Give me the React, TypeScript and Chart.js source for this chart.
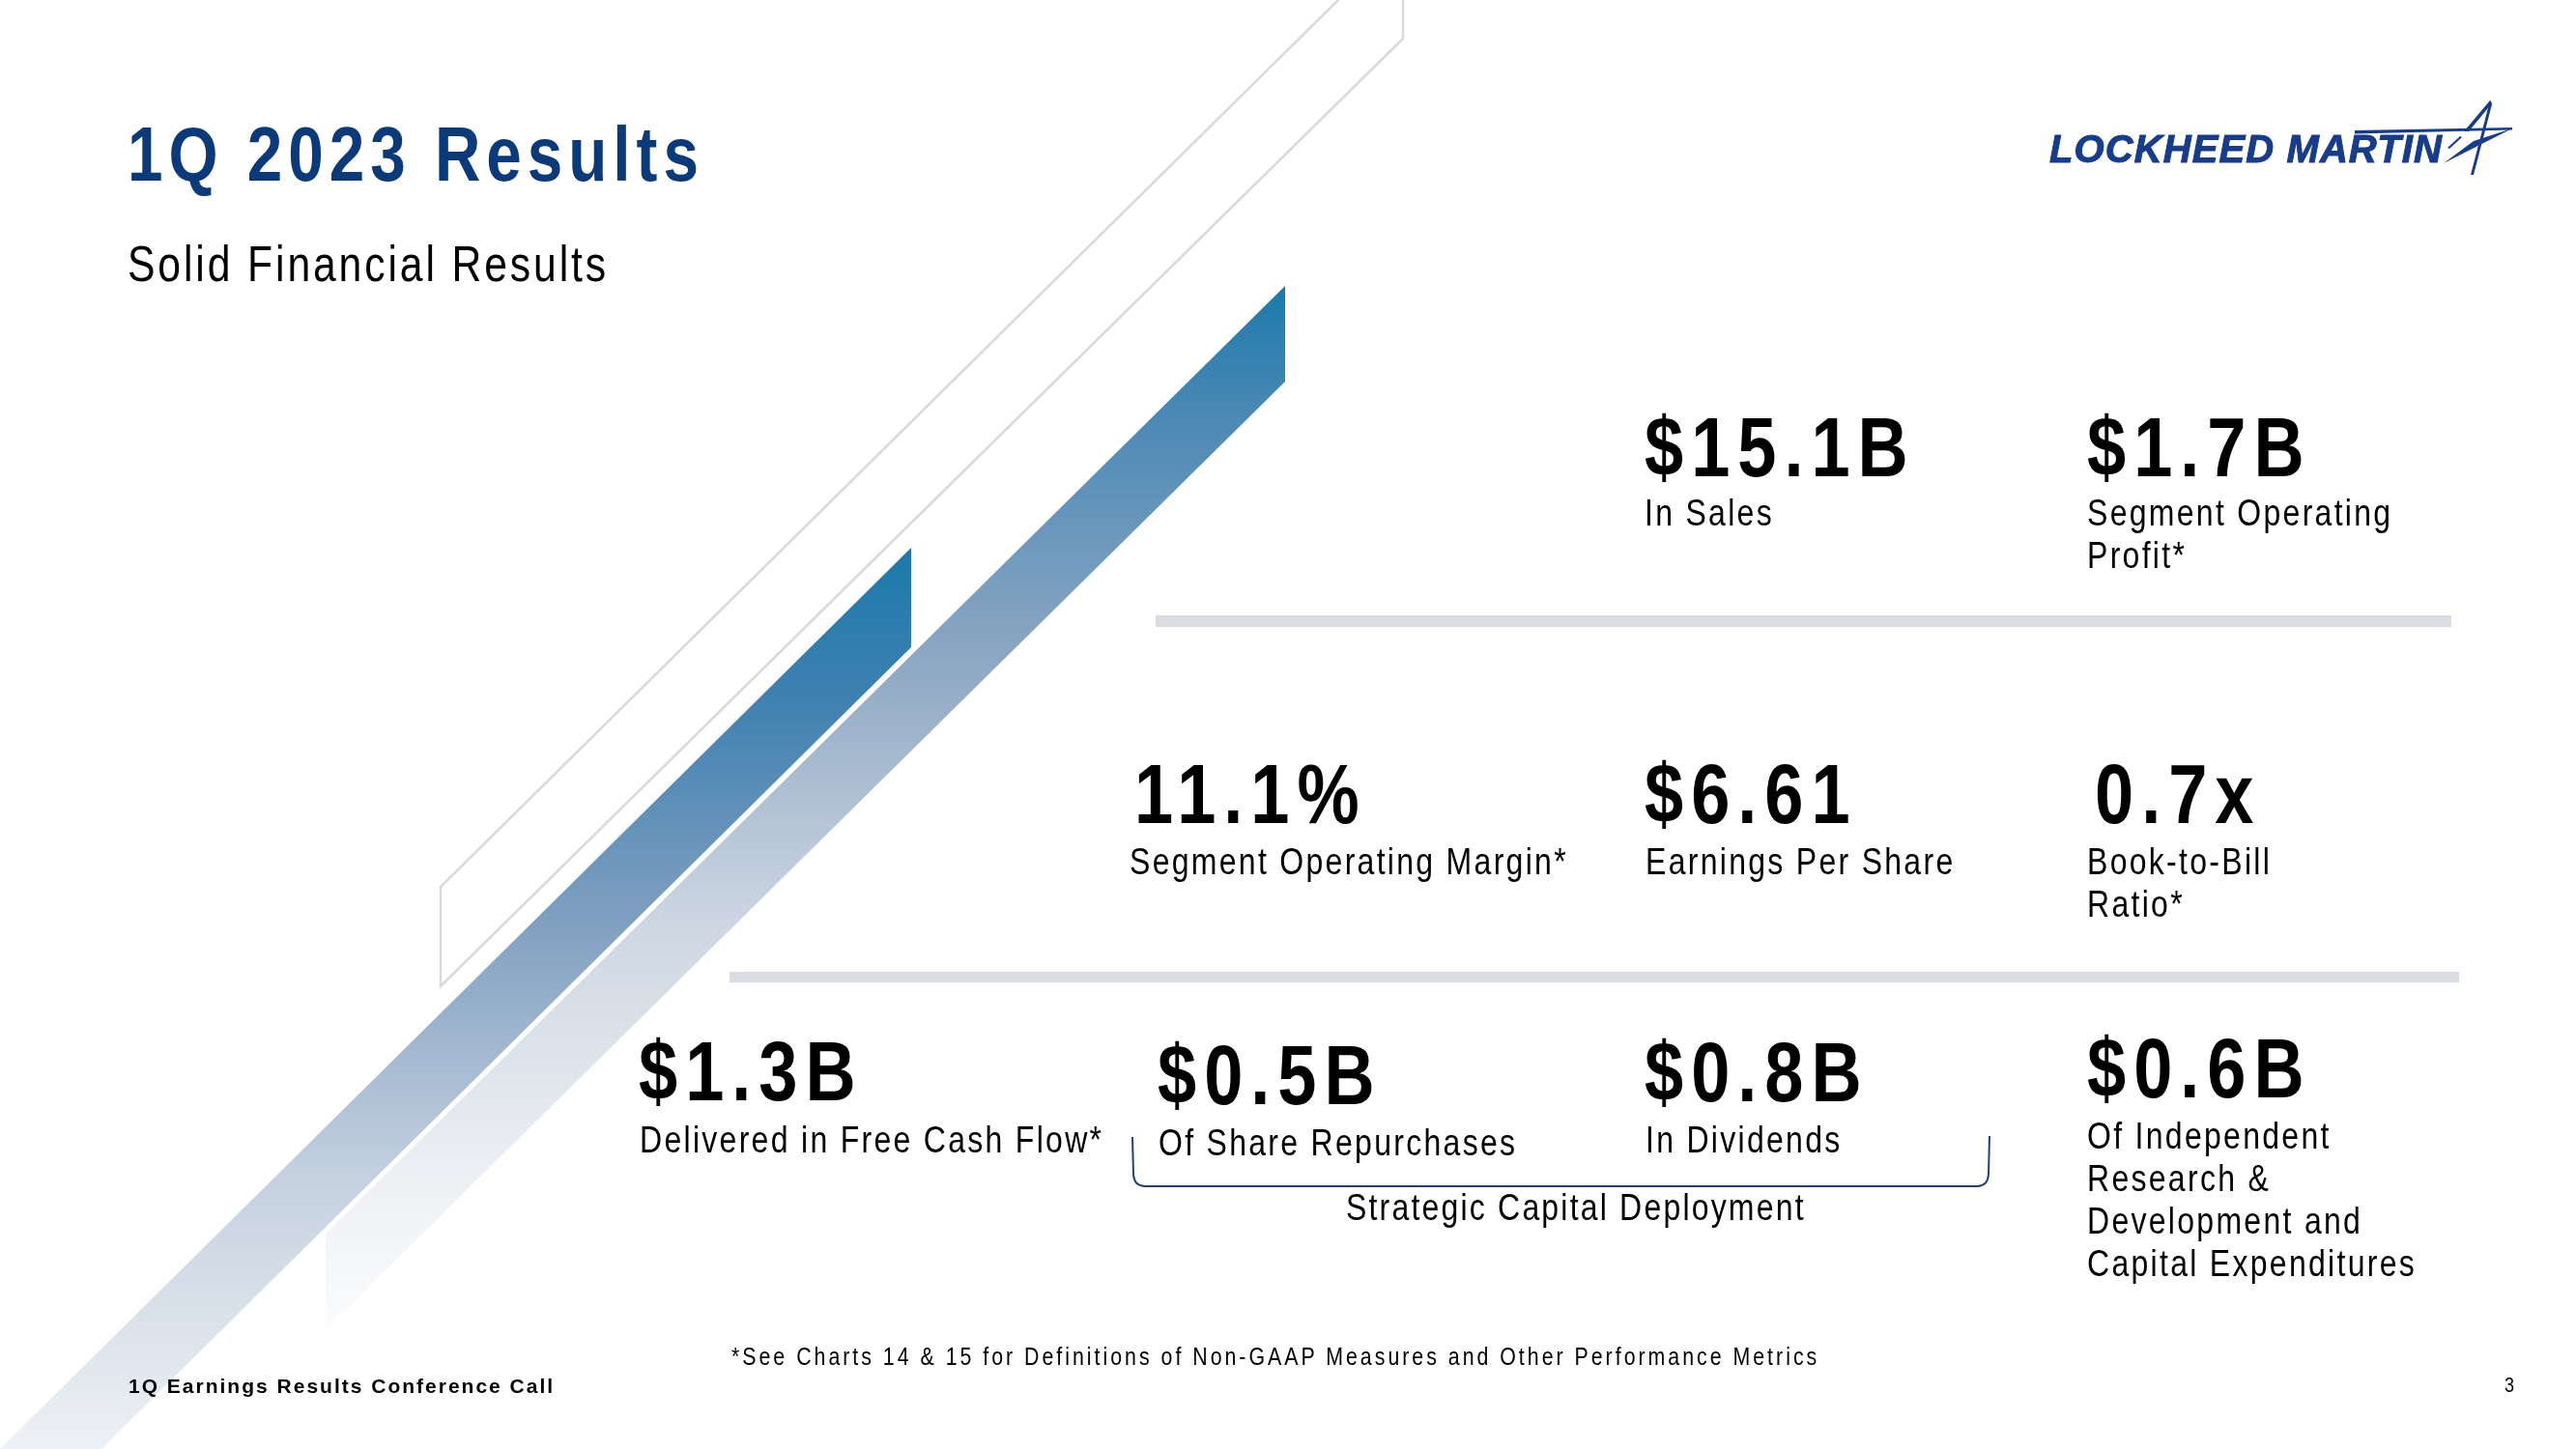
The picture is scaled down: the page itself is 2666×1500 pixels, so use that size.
import React, { useEffect, useRef } from "react";
import { Chart, registerables } from "chart.js";

Chart.register(...registerables);

// ---------- content (data) ----------
const TITLE = "1Q 2023 Results";
const SUBTITLE = "Solid Financial Results";
const KPI_VALUES = ["$15.1B", "$1.7B", "11.1%", "$6.61", "0.7x", "$1.3B", "$0.5B", "$0.8B", "$0.6B"];
const KPI_LABELS = [
  ["In Sales"],
  ["Segment Operating", "Profit*"],
  ["Segment Operating Margin*"],
  ["Earnings Per Share"],
  ["Book-to-Bill", "Ratio*"],
  ["Delivered in Free Cash Flow*"],
  ["Of Share Repurchases"],
  ["In Dividends"],
  ["Of Independent", "Research &", "Development and", "Capital Expenditures"],
];
const BRACKET_LABEL = "Strategic Capital Deployment";
const FOOTNOTE = "*See Charts 14 & 15 for Definitions of Non-GAAP Measures and Other Performance Metrics";
const FOOTER = "1Q Earnings Results Conference Call";
const PAGE_NUMBER = "3";
const LOGO_TEXT = "LOCKHEED MARTIN";

// ---------- layout ----------
const W = 2666;
const H = 1500;
const NARROW_SCALE = 0.82;
const KPI_LAYOUT = [
  { nx: 1702, lx: 1702, nb: 493, lb: 545 },
  { nx: 2160, lx: 2160, nb: 493, lb: 545 },
  { nx: 1174, lx: 1169, nb: 852, lb: 906 },
  { nx: 1702, lx: 1703, nb: 852, lb: 906 },
  { nx: 2168, lx: 2160, nb: 852, lb: 906 },
  { nx: 661, lx: 662, nb: 1139, lb: 1194 },
  { nx: 1198, lx: 1199, nb: 1143, lb: 1197 },
  { nx: 1702, lx: 1703, nb: 1140, lb: 1194 },
  { nx: 2160, lx: 2160, nb: 1136, lb: 1190 },
];

const SANS = '"Liberation Sans", Arial, sans-serif';

function topFor(baseline: number, size: number, lh: number) {
  return baseline - ((lh - 1.117 * size) / 2 + 0.905 * size);
}

type TxtProps = {
  x: number;
  baseline: number;
  size: number;
  lh?: number;
  weight?: number;
  color?: string;
  ls?: number;
  italic?: boolean;
  narrow?: boolean;
  stroke?: number;
  children: React.ReactNode;
};

// ls is the visible letter spacing in px
function Txt({ x, baseline, size, lh, weight = 400, color = "#000", ls = 0, italic, narrow, stroke, children }: TxtProps) {
  const L = lh ?? size;
  const k = narrow ? NARROW_SCALE : 1;
  return (
    <div
      style={{
        position: "absolute",
        left: x,
        top: topFor(baseline, size, L),
        fontFamily: SANS,
        fontSize: size,
        lineHeight: L + "px",
        fontWeight: weight,
        fontStyle: italic ? "italic" : "normal",
        color,
        letterSpacing: ls / k,
        whiteSpace: "pre",
        transform: narrow ? `scaleX(${k})` : undefined,
        transformOrigin: "0 0",
        WebkitTextStroke: stroke ? `${stroke}px ${color}` : undefined,
      }}
    >
      {children}
    </div>
  );
}

// ---------- decorative geometry drawn with the chart's scales ----------
const decorPlugin = {
  id: "slideDecor",
  beforeDatasetsDraw(chart: any) {
    const { ctx } = chart;
    const sx = chart.scales.x;
    const sy = chart.scales.y;
    const X = (v: number) => sx.getPixelForValue(v);
    const Y = (v: number) => sy.getPixelForValue(v);
    const poly = (pts: number[][]) => {
      ctx.beginPath();
      pts.forEach((p, i) => (i ? ctx.lineTo(X(p[0]), Y(p[1])) : ctx.moveTo(X(p[0]), Y(p[1]))));
      ctx.closePath();
    };
    ctx.save();

    // outline parallelogram (thin grey)
    ctx.strokeStyle = "#d9d9d9";
    ctx.lineWidth = 2.5;
    ctx.beginPath();
    ctx.moveTo(X(1387), Y(-2));
    ctx.lineTo(X(456), Y(918));
    ctx.lineTo(X(456), Y(1021));
    ctx.lineTo(X(1452), Y(40));
    ctx.lineTo(X(1452), Y(-2));
    ctx.stroke();

    // small (long) stripe
    let g = ctx.createLinearGradient(0, Y(567), 0, Y(1500));
    g.addColorStop(0, "#1a7aaa");
    g.addColorStop(0.16, "#3d80b0");
    g.addColorStop(0.41, "#7f9fc0");
    g.addColorStop(0.7, "#c5d1df");
    g.addColorStop(1, "#eef1f5");
    ctx.fillStyle = g;
    poly([[943, 567], [943, 670], [103, 1502], [-2, 1502]]);
    ctx.fill();

    // big stripe
    g = ctx.createLinearGradient(0, Y(296), 0, Y(1376));
    g.addColorStop(0, "#1a7aaa");
    g.addColorStop(0.12, "#4a88b5");
    g.addColorStop(0.36, "#8ea8c3");
    g.addColorStop(0.61, "#cdd6e2");
    g.addColorStop(0.86, "#eef0f4");
    g.addColorStop(1, "#fbfcfd");
    ctx.fillStyle = g;
    poly([[1330, 296], [1330, 395], [337, 1376], [337, 1277]]);
    ctx.fill();

    // separators
    ctx.fillStyle = "#d9dce2";
    poly([[1196, 637], [2537, 637], [2537, 649], [1196, 649]]);
    ctx.fill();
    poly([[755, 1006], [2545, 1006], [2545, 1017], [755, 1017]]);
    ctx.fill();

    // bracket
    ctx.strokeStyle = "#23407a";
    ctx.lineWidth = 2;
    ctx.beginPath();
    ctx.moveTo(X(1172), Y(1177));
    ctx.lineTo(X(1173), Y(1216));
    ctx.quadraticCurveTo(X(1174), Y(1228), X(1185), Y(1228));
    ctx.lineTo(X(2046), Y(1228));
    ctx.quadraticCurveTo(X(2057), Y(1228), X(2058), Y(1216));
    ctx.lineTo(X(2059), Y(1176));
    ctx.stroke();

    // logo star
    ctx.fillStyle = "#173c8c";
    poly([[2437, 135], [2600, 132], [2600, 134.5], [2437, 138.5]]);
    ctx.fill();
    poly([[2577, 104], [2579, 107], [2555, 136], [2550, 136]]);
    ctx.fill();
    poly([[2577, 104], [2579, 108], [2560, 181], [2557, 181]]);
    ctx.fill();
    poly([[2600, 133], [2529, 169], [2560, 146]]);
    ctx.fill();
    poly([[2533, 153], [2546, 141], [2548, 142], [2535, 154]]);
    ctx.fill();

    ctx.restore();
  },
};

function SlideCanvas() {
  const ref = useRef<HTMLCanvasElement | null>(null);
  useEffect(() => {
    if (!ref.current) return;
    const chart = new Chart(ref.current, {
      type: "scatter",
      data: { datasets: [] },
      options: {
        animation: false,
        responsive: false,
        events: [],
        layout: { padding: 0 },
        plugins: { legend: { display: false }, tooltip: { enabled: false }, title: { display: false } },
        scales: {
          x: { type: "linear", min: 0, max: W, display: false },
          y: { type: "linear", min: 0, max: H, reverse: true, display: false },
        },
      },
      plugins: [decorPlugin as any],
    });
    return () => chart.destroy();
  }, []);
  return <canvas ref={ref} width={W} height={H} style={{ position: "absolute", left: 0, top: 0, width: W, height: H }} />;
}

export default function App() {
  return (
    <div style={{ position: "relative", width: W, height: H, overflow: "hidden", background: "#fff" }}>
      <style>{"body{margin:0;background:#fff}"}</style>
      <SlideCanvas />

      <Txt x={132} baseline={188} size={80} weight={700} color="#0b3a7a" ls={6} narrow>{TITLE}</Txt>
      <Txt x={132} baseline={291} size={52} ls={2.9} color="#000" narrow>{SUBTITLE}</Txt>

      <Txt x={2121} baseline={168} size={40} weight={700} italic color="#173c8c" ls={1.1} stroke={1}>{LOGO_TEXT}</Txt>

      {KPI_VALUES.map((v, i) => (
        <Txt key={"v" + i} x={KPI_LAYOUT[i].nx} baseline={KPI_LAYOUT[i].nb} size={88} weight={700} ls={8} color="#000" narrow>{v}</Txt>
      ))}
      {KPI_LABELS.map((lines, i) => (
        <Txt key={"l" + i} x={KPI_LAYOUT[i].lx} baseline={KPI_LAYOUT[i].lb} size={39} lh={44} ls={2.3} color="#000" narrow>
          {lines.join("\n")}
        </Txt>
      ))}

      <Txt x={1393} baseline={1263} size={39} ls={2.2} color="#000" narrow>{BRACKET_LABEL}</Txt>
      <Txt x={757} baseline={1413} size={26} ls={3} color="#000" narrow>{FOOTNOTE}</Txt>
      <Txt x={133} baseline={1442} size={21} weight={700} ls={2} color="#000">{FOOTER}</Txt>
      <Txt x={2592} baseline={1442} size={22} color="#000" narrow>{PAGE_NUMBER}</Txt>
    </div>
  );
}
